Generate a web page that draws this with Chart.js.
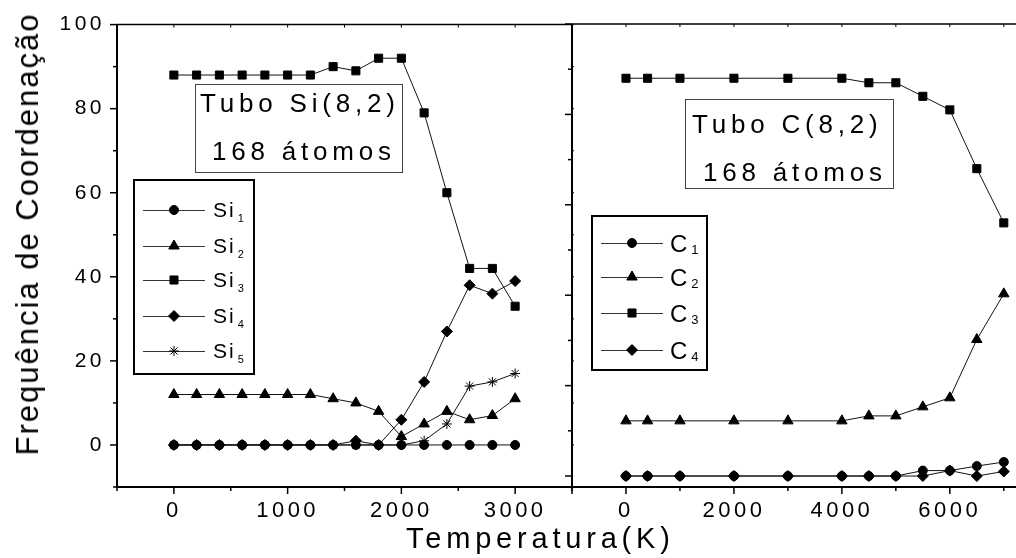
<!DOCTYPE html>
<html lang="pt">
<head>
<meta charset="UTF-8">
<title>Frequência de Coordenação</title>
<script src="https://cdn.jsdelivr.net/npm/chart.js"></script>
<style>
  body { margin: 0; background: #fff; }
  #wrap { position: relative; width: 1016px; height: 558px; overflow: hidden; font-family: 'Liberation Sans', Arial, sans-serif; color: #000; }
  #left { position: absolute; left: 0; top: 0; }
  #right { position: absolute; left: 560px; top: 0; }
  #ytitle { position: absolute; left: 28px; top: 234px; transform: translate(-50%, -50%) rotate(-90deg); font-size: 31px; letter-spacing: 2px; line-height: 34px; white-space: nowrap; }
  #xtitle { position: absolute; left: 406px; top: 522px; font-size: 29px; letter-spacing: 4.8px; line-height: 32px; white-space: nowrap; }
</style>
</head>
<body>
<div id="wrap">
  <canvas id="left" width="583" height="558"></canvas>
  <canvas id="right" width="467" height="558"></canvas>
  <div id="ytitle">Frequência de Coordenação</div>
  <div id="xtitle">Temperatura(K)</div>
</div>
<script>
const FONT = "'Liberation Sans', Arial, sans-serif";

// Tubo Si(8,2)
const siTemps = [0, 200, 400, 600, 800, 1000, 1200, 1400, 1600, 1800, 2000, 2200, 2400, 2600, 2800, 3000];
const si1 = [0, 0, 0, 0, 0, 0, 0, 0, 0, 0, 0, 0, 0, 0, 0, 0];
const si2 = [12, 12, 12, 12, 12, 12, 12, 11, 10, 8, 2, 5, 8, 6, 7, 11];
const si3 = [88, 88, 88, 88, 88, 88, 88, 90, 89, 92, 92, 79, 60, 42, 42, 33];
const si4 = [0, 0, 0, 0, 0, 0, 0, 0, 1, 0, 6, 15, 27, 38, 36, 39];
const si5 = [0, 0, 0, 0, 0, 0, 0, 0, 0, 0, 0, 1, 5, 14, 15, 17];

// Tubo C(8,2)
const cTemps = [0, 400, 1000, 2000, 3000, 4000, 4500, 5000, 5500, 6000, 6500, 7000];
const c1 = [0, 0, 0, 0, 0, 0, 0, 0, 1.2, 1.2, 2.2, 3.1];
const c2 = [12.2, 12.2, 12.2, 12.2, 12.2, 12.2, 13.3, 13.3, 15.3, 17.3, 30.2, 40.3];
const c3 = [88, 88, 88, 88, 88, 88, 87, 87, 84, 81, 68, 56];
const c4 = [0, 0, 0, 0, 0, 0, 0, 0, 0, 1.2, 0, 1];

const siSubs = ['1', '2', '3', '4', '5'];
const cSubs = ['1', '2', '3', '4'];
const markers = ['circle', 'triangle', 'rect', 'rectRot', 'star'];
const markerSizes = [4.5, 6, 5.7, 5.5, 5];

// tick labels and tick marks
const leftYLabels = [0, 20, 40, 60, 80, 100];
const leftXLabels = [0, 1000, 2000, 3000];
const rightXLabels = [0, 2000, 4000, 6000];
const leftYMarks = [-10, 0, 10, 20, 30, 40, 50, 60, 70, 80, 90, 100];
const leftXMarks = [-500, 0, 500, 1000, 1500, 2000, 2500, 3000, 3500];
const rightYMarks = [0, 10, 20, 30, 40, 50, 60, 70, 80, 90, 100];
const rightXMarks = [-1000, 0, 1000, 2000, 3000, 4000, 5000, 6000, 7000];

function makeSets(temps, series) {
    return series.map((ys, i) => ({
        data: temps.map((t, j) => ({ x: t, y: ys[j] })),
        borderColor: '#111',
        borderWidth: 1,
        pointStyle: markers[i],
        pointRadius: markerSizes[i],
        pointBackgroundColor: '#000',
        pointBorderColor: '#000',
        pointBorderWidth: 1,
        tension: 0
    }));
}

const fixTicks = values => scale => { scale.ticks = values.map(v => ({ value: v })); };

function marks(ctx, scale, values, isMajor, fixed, dir, lenMajor, lenMinor) {
    values.forEach(v => {
        const p = scale.getPixelForValue(v);
        const len = isMajor(v) ? lenMajor : lenMinor;
        ctx.beginPath();
        if (dir === 'left') { ctx.moveTo(fixed, p); ctx.lineTo(fixed - len, p); }
        else if (dir === 'right') { ctx.moveTo(fixed, p); ctx.lineTo(fixed + len, p); }
        else if (dir === 'down') { ctx.moveTo(p, fixed); ctx.lineTo(p, fixed + len); }
        else { ctx.moveTo(p, fixed); ctx.lineTo(p, fixed - len); }
        ctx.stroke();
    });
}

function textBox(ctx, box, lines) {
    ctx.save();
    ctx.strokeStyle = '#444';
    ctx.lineWidth = 1;
    ctx.strokeRect(box[0] + 0.5, box[1] + 0.5, box[2] - box[0], box[3] - box[1]);
    ctx.fillStyle = '#000';
    ctx.font = '26px ' + FONT;
    ctx.letterSpacing = '4.8px';
    ctx.textBaseline = 'alphabetic';
    lines.forEach(l => ctx.fillText(l[0], l[1], l[2]));
    ctx.restore();
}

function legendBox(ctx, o) {
    ctx.save();
    ctx.strokeStyle = '#000';
    ctx.lineWidth = 2;
    ctx.strokeRect(o.box[0], o.box[1], o.box[2] - o.box[0], o.box[3] - o.box[1]);
    o.subs.forEach((s, i) => {
        const y = o.rows[i];
        ctx.strokeStyle = '#333';
        ctx.lineWidth = 1;
        ctx.beginPath();
        ctx.moveTo(o.line[0], y + 0.5);
        ctx.lineTo(o.line[1], y + 0.5);
        ctx.stroke();
        ctx.fillStyle = '#000';
        ctx.strokeStyle = '#000';
        const mid = (o.line[0] + o.line[1]) / 2;
        if (Chart.helpers && Chart.helpers.drawPoint) {
            Chart.helpers.drawPoint(ctx, { pointStyle: markers[i], rotation: 0, radius: markerSizes[i], borderWidth: 1 }, mid, y);
        } else {
            ctx.beginPath(); ctx.arc(mid, y, 4, 0, Math.PI * 2); ctx.fill();
        }
        ctx.letterSpacing = o.ls;
        ctx.font = o.size + 'px ' + FONT;
        ctx.fillText(o.base, o.textX, y + o.baseOff);
        const w = ctx.measureText(o.base).width;
        ctx.letterSpacing = '0px';
        ctx.font = o.subSize + 'px ' + FONT;
        ctx.fillText(s, o.textX + w + o.subGap, y + o.subOff);
    });
    ctx.restore();
}

const spacing = {
    id: 'spacing',
    beforeLayout(chart) { chart.ctx.letterSpacing = '3.5px'; },
    beforeDraw(chart) { chart.ctx.letterSpacing = '3.5px'; }
};

const leftDecor = {
    id: 'leftDecor',
    afterDraw(chart) {
        const { ctx, chartArea: a, scales: { x, y } } = chart;
        ctx.save();
        ctx.letterSpacing = '0px';
        ctx.strokeStyle = '#000';
        ctx.lineWidth = 2;
        ctx.beginPath();
        ctx.moveTo(a.left, a.top);
        ctx.lineTo(a.left, a.bottom);
        ctx.lineTo(a.right, a.bottom);
        ctx.lineTo(a.right, a.top);
        ctx.stroke();
        ctx.lineWidth = 1.5;
        ctx.beginPath();
        ctx.moveTo(a.left, a.top);
        ctx.lineTo(a.right, a.top);
        ctx.stroke();
        marks(ctx, y, leftYMarks, v => v % 20 === 0, a.left, 'left', 7, 4);
        marks(ctx, x, leftXMarks, v => v % 1000 === 0, a.bottom, 'down', 7, 4);
        ctx.lineWidth = 1;
        marks(ctx, x, leftXMarks, v => true, a.top, 'down', 3, 3);
        marks(ctx, y, leftYMarks, v => true, a.right, 'right', 2, 2);
        ctx.restore();

        textBox(ctx, [195, 84, 402, 172], [['Tubo Si(8,2)', 200, 112], ['168 átomos', 212, 160]]);
        legendBox(ctx, {
            box: [134, 180, 254, 374], rows: [210, 246, 280, 316, 351],
            line: [143, 205], textX: 213, base: 'Si', subs: siSubs,
            size: 21, subSize: 11, ls: '2px', baseOff: 7, subOff: 12, subGap: 2
        });
    }
};

const rightDecor = {
    id: 'rightDecor',
    afterDraw(chart) {
        const { ctx, chartArea: a, scales: { x, y } } = chart;
        const ox = 560;
        ctx.save();
        ctx.letterSpacing = '0px';
        ctx.strokeStyle = '#000';
        ctx.lineWidth = 2;
        ctx.beginPath();
        ctx.moveTo(a.right + 4, a.bottom);
        ctx.lineTo(a.left, a.bottom);
        ctx.lineTo(a.left, a.top);
        ctx.stroke();
        ctx.lineWidth = 1.5;
        ctx.beginPath();
        ctx.moveTo(a.left, a.top);
        ctx.lineTo(a.right + 4, a.top);
        ctx.stroke();
        marks(ctx, y, rightYMarks, v => v % 20 === 0, a.left, 'left', 7, 4);
        marks(ctx, x, rightXMarks, v => v % 2000 === 0 || v === -1000, a.bottom, 'down', 7, 4);
        ctx.lineWidth = 1;
        marks(ctx, x, rightXMarks, v => true, a.top, 'down', 3, 3);
        ctx.restore();

        textBox(ctx, [685 - ox, 99, 893 - ox, 188], [['Tubo C(8,2)', 692 - ox, 133], ['168 átomos', 703 - ox, 181]]);
        legendBox(ctx, {
            box: [592 - ox, 216, 707 - ox, 370], rows: [243, 277, 313, 350],
            line: [601 - ox, 663 - ox], textX: 670 - ox, base: 'C', subs: cSubs,
            size: 24, subSize: 13, ls: '1px', baseOff: 9, subOff: 11, subGap: 3
        });
    }
};

const xFont = { family: FONT, size: 22 };
const yFont = { family: FONT, size: 21 };

new Chart(document.getElementById('left'), {
    type: 'line',
    data: { datasets: makeSets(siTemps, [si1, si2, si3, si4, si5]) },
    options: {
        responsive: false,
        animation: false,
        layout: { padding: { top: 24, right: 0, left: 0, bottom: 0 } },
        plugins: { legend: { display: false }, tooltip: { enabled: false } },
        scales: {
            x: {
                type: 'linear', min: -500, max: 3500,
                afterBuildTicks: fixTicks(leftXMarks),
                afterFit: s => { s.height = 71; },
                grid: { display: false, drawTicks: false },
                border: { display: false },
                ticks: {
                    autoSkip: false, maxRotation: 0, padding: 11,
                    color: '#000', font: xFont,
                    callback: v => leftXLabels.includes(v) ? String(v) : ''
                }
            },
            y: {
                min: -10, max: 100,
                afterBuildTicks: fixTicks(leftYMarks),
                afterFit: s => { s.width = 117; },
                grid: { display: false, drawTicks: false },
                border: { display: false },
                ticks: {
                    autoSkip: false, padding: 12,
                    color: '#000', font: yFont,
                    callback: v => leftYLabels.includes(v) ? String(v) : ''
                }
            }
        }
    },
    plugins: [spacing, leftDecor]
});

new Chart(document.getElementById('right'), {
    type: 'line',
    data: { datasets: makeSets(cTemps, [c1, c2, c3, c4]) },
    options: {
        responsive: false,
        animation: false,
        layout: { padding: { top: 24, right: 0, left: 0, bottom: 0 } },
        plugins: { legend: { display: false }, tooltip: { enabled: false } },
        scales: {
            x: {
                type: 'linear', min: -1000, max: 7300,
                afterBuildTicks: fixTicks(rightXMarks),
                afterFit: s => { s.height = 71; },
                grid: { display: false, drawTicks: false },
                border: { display: false },
                ticks: {
                    autoSkip: false, maxRotation: 0, padding: 11,
                    color: '#000', font: xFont,
                    callback: v => rightXLabels.includes(v) ? String(v) : ''
                }
            },
            y: {
                min: -2.43, max: 100,
                afterBuildTicks: fixTicks(rightYMarks),
                afterFit: s => { s.width = 12; },
                grid: { display: false, drawTicks: false },
                border: { display: false },
                ticks: { display: false }
            }
        }
    },
    plugins: [spacing, rightDecor]
});
</script>
</body>
</html>
